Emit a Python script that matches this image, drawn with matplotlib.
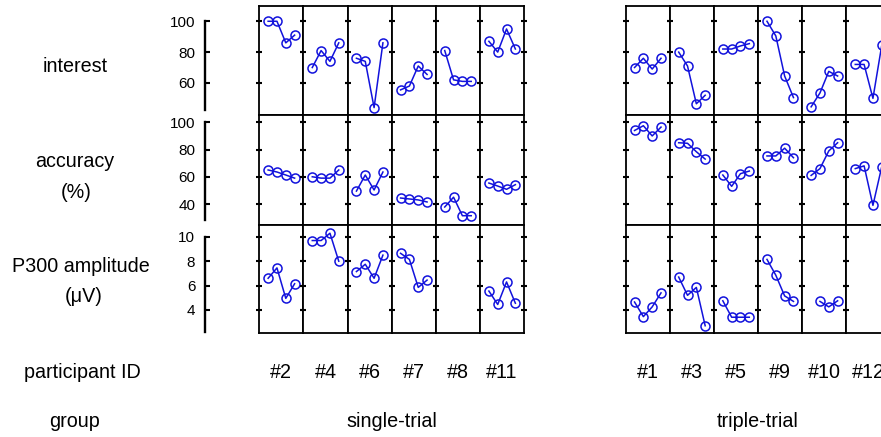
"""Per-participant session trends: interest, accuracy and P300 amplitude."""

import matplotlib.pyplot as plt
import numpy as np

plt.rcParams['font.family'] = ['Liberation Sans', 'DejaVu Sans']

nan = np.nan

sessions = [1, 2, 3, 4]
single_ids = ["#2", "#4", "#6", "#7", "#8", "#11"]
triple_ids = ["#1", "#3", "#5", "#9", "#10", "#12"]
group_names = ["single-trial", "triple-trial"]
row_names = [["interest"], ["accuracy", "(%)"], ["P300 amplitude", "(\u03bcV)"]]

interest_single = [[100, 100, 86, 91], [70, 81, 74, 86], [76, 74, 44, 86],
                   [55.5, 58, 71, 65.5], [81, 62, 61, 61], [87, 80, 95, 82]]
interest_triple = [[70, 76, 69, 76], [80, 71, 46.5, 52], [82, 82, 84, 85.5],
                   [100, 90.5, 64.5, 50.5], [44.5, 53.5, 67.5, 64.5], [72, 72, 50, 84.5]]

accuracy_single = [[65, 63.5, 61.3, 59], [60, 59, 59, 65], [49.5, 61.3, 50.3, 63.5],
                   [44.4, 43.7, 43, 41.5], [37.8, 45, 31.4, 31.4], [55.4, 53.2, 50.8, 54.2]]
accuracy_triple = [[94, 97.5, 90, 96.5], [85, 84.6, 78.4, 73], [61.3, 53, 62.3, 64.2],
                   [75.3, 75.3, 81, 74], [61, 66, 79, 85], [66, 68, 39, 67.5]]

p300_single = [[6.6, 7.45, 4.95, 6.15], [9.7, 9.7, 10.3, 8.0], [7.15, 7.75, 6.6, 8.5],
               [8.65, 8.15, 5.85, 6.45], [nan, nan, nan, nan], [5.55, 4.45, 6.3, 4.55]]
p300_triple = [[4.65, 3.45, 4.25, 5.4], [6.7, 5.2, 5.85, 2.7], [4.75, 3.4, 3.4, 3.4],
               [8.15, 6.85, 5.15, 4.7], [nan, 4.7, 4.25, 4.75], [nan, nan, nan, nan]]

row_data = [
    (interest_single, interest_triple),
    (accuracy_single, accuracy_triple),
    (p300_single, p300_triple),
]
row_ylims = [(39.4, 109.9), (24.8, 105.6), (2.08, 11.0)]
row_ticks = [[60, 80, 100], [40, 60, 80, 100], [4, 6, 8, 10]]
spine_bounds = [(42.5, 100), (28.3, 100), (2.2, 10)]

W, H = 881, 437
row_edges = [(6, 114.7), (114.7, 224.7), (224.7, 333.3)]
block_left = [259.3, 625.7]
panel_w = 44.15
line_color = "#1212dc"


def rect(x0, y0, x1, y1):
    return [x0 / W, 1 - y1 / H, (x1 - x0) / W, (y1 - y0) / H]


def fig_text(fig, x, y, s, size=14.2):
    fig.text(x / W, 1 - y / H, s, ha="center", va="center", fontsize=size)


fig = plt.figure(figsize=(W / 100, H / 100), dpi=100)

for r, (top, bottom) in enumerate(row_edges):
    # separate scale axis on the left
    sax = fig.add_axes(rect(205, top, 206, bottom))
    sax.patch.set_visible(False)
    for side in ("top", "right", "bottom"):
        sax.spines[side].set_visible(False)
    sax.spines["left"].set_linewidth(1.7)
    sax.spines["left"].set_bounds(*spine_bounds[r])
    sax.set_ylim(*row_ylims[r])
    sax.set_yticks(row_ticks[r])
    sax.set_xticks([])
    sax.tick_params(axis="y", direction="in", length=3.5, width=1.5, labelsize=11, pad=7)

    for b, ids in enumerate([single_ids, triple_ids]):
        series = row_data[r][b]
        for c in range(len(ids)):
            x0 = block_left[b] + c * panel_w
            ax = fig.add_axes(rect(x0, top, x0 + panel_w, bottom))
            ax.plot(sessions, series[c], "-o", color=line_color, lw=1.1,
                    ms=6.5, mfc="none", mec=line_color, mew=1.1, clip_on=False)
            ax.set_xlim(0, 5)
            ax.set_ylim(*row_ylims[r])
            ax.set_xticks([])
            ax.set_yticks(row_ticks[r])
            ax.tick_params(axis="y", direction="inout", length=4, width=1.5,
                           left=True, right=True, labelleft=False)
            for sp in ax.spines.values():
                sp.set_linewidth(1.3)

# row labels
fig_text(fig, 75.5, 66.5, row_names[0][0])
fig_text(fig, 75, 161.8, row_names[1][0])
fig_text(fig, 75.8, 192.2, row_names[1][1])
fig_text(fig, 80.8, 266.5, row_names[2][0])
fig_text(fig, 84, 297, row_names[2][1])

# participant and group labels
fig_text(fig, 82.5, 373, "participant ID")
fig_text(fig, 75, 421.5, "group")
for b, ids in enumerate([single_ids, triple_ids]):
    for c, pid in enumerate(ids):
        fig_text(fig, block_left[b] + (c + 0.5) * panel_w, 373, pid)
    fig_text(fig, block_left[b] + 3 * panel_w, 421.5, group_names[b])

fig.savefig("out.png", dpi=100)
